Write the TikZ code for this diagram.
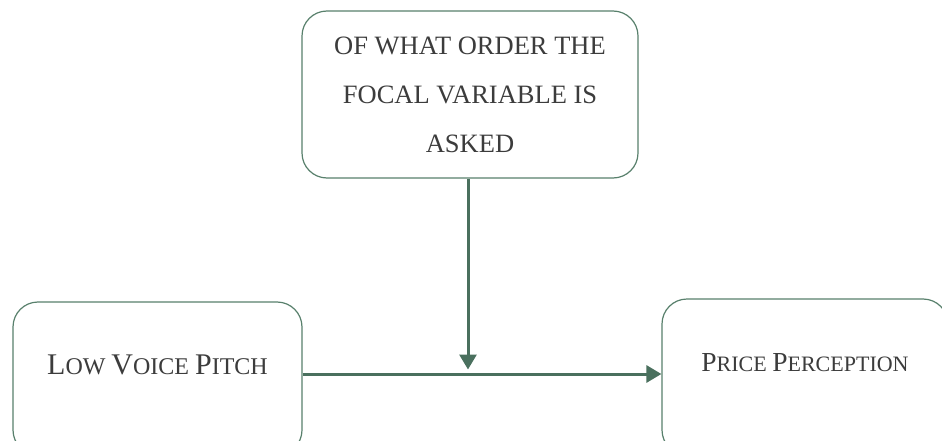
\documentclass[tikz,border=0pt]{standalone}
\usepackage{fontspec}
\setmainfont{Liberation Serif}
\usetikzlibrary{arrows.meta}
\definecolor{boxline}{RGB}{88,128,108}
\definecolor{flow}{RGB}{74,112,94}
\definecolor{ink}{RGB}{60,60,60}
% hand-made small caps: large initial, smaller remaining capitals
\newcommand{\initialcap}[2]{{\fontsize{#1}{#1}\selectfont #2}}
\begin{document}
\begin{tikzpicture}[x=1pt,y=-1pt,
  varbox/.style={draw=boxline, line width=1.2pt, rounded corners=25pt,
    fill=white, inner sep=0pt},
  flowline/.style={draw=flow, line width=3pt,
    -{Triangle[length=15pt,width=17pt]}},
  txt/.style={text=ink, inner sep=0pt}]
\useasboundingbox (0,0) rectangle (942,441);
\clip (0,0) rectangle (942,441);
% moderator box
\node[varbox, minimum width=336pt, minimum height=167pt, align=center,
  text=ink, font=\fontsize{26.5}{49}\selectfont] (mod) at (470,94.5)
  {OF WHAT ORDER THE\\FOCAL VARIABLE IS\\ASKED};
% independent variable
\node[varbox, minimum width=289pt, minimum height=153pt] (iv) at (157.5,378.5) {};
\node[txt, yshift=13.5pt, font=\fontsize{24}{24}\selectfont] (ivt) at (iv.center)
  {\initialcap{30}{L}OW \initialcap{30}{V}OICE \initialcap{30}{P}ITCH};
% dependent variable
\node[varbox, minimum width=286pt, minimum height=156pt] (dv) at (805,377) {};
\node[txt, yshift=14.5pt, font=\fontsize{22}{22}\selectfont] (dvt) at (dv.center)
  {\initialcap{27.5}{P}RICE \initialcap{27.5}{P}ERCEPTION};
% connectors
\coordinate (j) at (468,374);
\draw[flowline] (iv.east |- j) -- (dv.west |- j);
\draw[flowline, shorten >=4.5pt] (mod.south -| j) -- (j);
\end{tikzpicture}
\end{document}
